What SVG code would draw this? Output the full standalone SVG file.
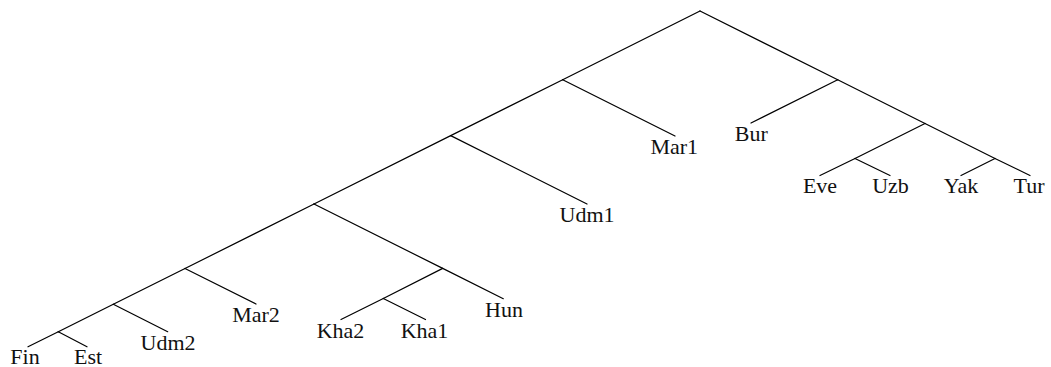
<svg xmlns="http://www.w3.org/2000/svg" width="1051" height="367" viewBox="0 0 1051 367">
<style>
.e{stroke:#000;stroke-width:1.2;fill:none;stroke-linecap:round}
.t{font-family:"Liberation Serif","Times New Roman",serif;font-size:22px;fill:#111;text-anchor:middle}
</style>
<rect width="1051" height="367" fill="#fff"/>
<g id="connectors">
<line class="e" x1="700" y1="11" x2="562.7" y2="79.7"/>
<line class="e" x1="700" y1="11" x2="837.7" y2="79.8"/>
<line class="e" x1="562.7" y1="79.7" x2="675" y2="136"/>
<line class="e" x1="562.7" y1="79.7" x2="450.7" y2="135.6"/>
<line class="e" x1="450.7" y1="135.6" x2="587" y2="204"/>
<line class="e" x1="450.7" y1="135.6" x2="314" y2="204"/>
<line class="e" x1="314" y1="204" x2="442.7" y2="268.4"/>
<line class="e" x1="314" y1="204" x2="185" y2="268.5"/>
<line class="e" x1="442.7" y1="268.4" x2="503.3" y2="298.7"/>
<line class="e" x1="442.7" y1="268.4" x2="383.3" y2="298.5"/>
<line class="e" x1="383.3" y1="298.5" x2="341" y2="319.5"/>
<line class="e" x1="383.3" y1="298.5" x2="425.5" y2="319.5"/>
<line class="e" x1="185" y1="268.5" x2="256" y2="304"/>
<line class="e" x1="185" y1="268.5" x2="113.3" y2="304.3"/>
<line class="e" x1="113.3" y1="304.3" x2="167.7" y2="331.7"/>
<line class="e" x1="113.3" y1="304.3" x2="58.3" y2="331.8"/>
<line class="e" x1="58.3" y1="331.8" x2="28" y2="346.8"/>
<line class="e" x1="58.3" y1="331.8" x2="87" y2="346.8"/>
<line class="e" x1="837.7" y1="79.8" x2="751" y2="123"/>
<line class="e" x1="837.7" y1="79.8" x2="925" y2="123.5"/>
<line class="e" x1="925" y1="123.5" x2="855" y2="158.5"/>
<line class="e" x1="925" y1="123.5" x2="995" y2="158.5"/>
<line class="e" x1="855" y1="158.5" x2="820" y2="175.5"/>
<line class="e" x1="855" y1="158.5" x2="890" y2="175.5"/>
<line class="e" x1="995" y1="158.5" x2="961" y2="175.5"/>
<line class="e" x1="995" y1="158.5" x2="1030" y2="175.5"/>
</g>
<g id="Fin"><text class="t" x="25" y="363.5">Fin</text></g>
<g id="Est"><text class="t" x="88" y="363.5">Est</text></g>
<g id="Udm2"><text class="t" x="168" y="350">Udm2</text></g>
<g id="Mar2"><text class="t" x="256" y="321.7">Mar2</text></g>
<g id="Kha2"><text class="t" x="340.5" y="337.5">Kha2</text></g>
<g id="Kha1"><text class="t" x="424.5" y="337.5">Kha1</text></g>
<g id="Hun"><text class="t" x="504" y="317">Hun</text></g>
<g id="Udm1"><text class="t" x="587" y="222">Udm1</text></g>
<g id="Mar1"><text class="t" x="674.3" y="154">Mar1</text></g>
<g id="Bur"><text class="t" x="751.3" y="140.7">Bur</text></g>
<g id="Eve"><text class="t" x="820" y="193.3">Eve</text></g>
<g id="Uzb"><text class="t" x="890.5" y="193.3">Uzb</text></g>
<g id="Yak"><text class="t" x="961" y="193.3">Yak</text></g>
<g id="Tur"><text class="t" x="1029" y="193.3">Tur</text></g>
</svg>
